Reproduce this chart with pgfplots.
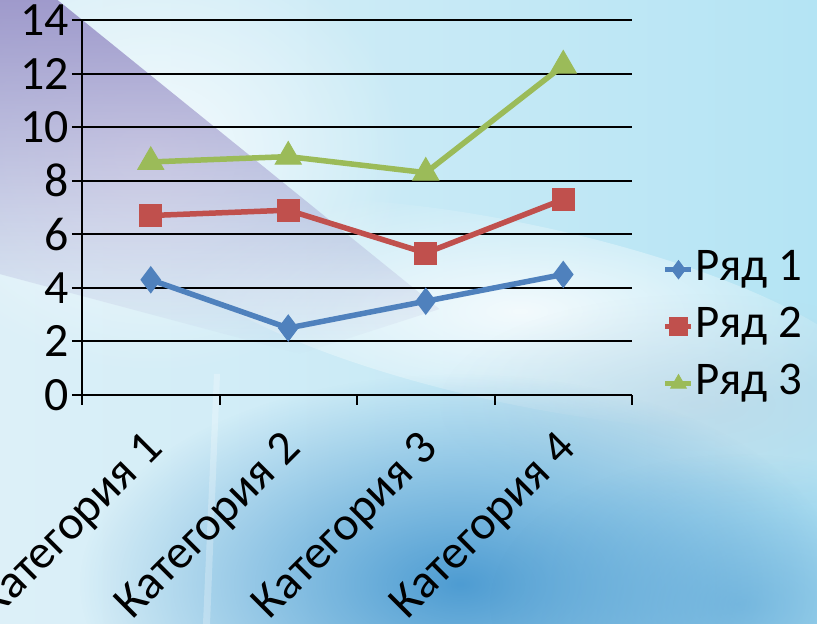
\documentclass[border=0pt]{standalone}
\usepackage{pgfplots}
\pgfplotsset{compat=1.18}
\usepackage{fontspec}
\setmainfont{Carlito}
\usetikzlibrary{fadings}
\definecolor{s1}{HTML}{4F81BD}
\definecolor{s2}{HTML}{C0504D}
\definecolor{s3}{HTML}{9BBB59}
\definecolor{bgL}{HTML}{DDF0F8}
\definecolor{bgR}{HTML}{B4E4F4}
\definecolor{lav}{HTML}{948BC4}
\definecolor{deepb}{HTML}{4E9CD2}
\definecolor{greyb}{HTML}{BFD3E2}
\tikzfading[name=fadeout, inner color=transparent!0, outer color=transparent!100]
\tikzfading[name=fadedown, top color=transparent!0, bottom color=transparent!100]
\begin{document}
\begin{tikzpicture}[x=1bp,y=1bp]
\clip (0,0) rectangle (817,624);
% background
\shade[left color=bgL, right color=bgR] (0,0) rectangle (817,624);
\fill[white, opacity=0.75, path fading=fadeout] (150,470) ellipse (260 and 220);
\fill[white, opacity=0.8, path fading=fadeout, rotate around={-12:(520,310)}] (520,310) ellipse (360 and 90);
\fill[lav, opacity=0.85, path fading=fadedown] (0,624) -- (58,624) -- (440,315) -- (300,270) -- (0,350) -- cycle;
\fill[greyb, opacity=0.55, path fading=fadeout] (700,220) ellipse (260 and 110);
\fill[deepb, path fading=fadeout] (460,40) ellipse (380 and 210);
\fill[deepb, opacity=0.5, path fading=fadeout] (740,20) ellipse (250 and 150);
\fill[white, opacity=0.25] (203,0) -- (210,0) -- (220,250) -- (214,250) -- cycle;
\begin{axis}[
  at={(82bp,229bp)}, anchor=south west,
  scale only axis, width=550bp, height=375bp,
  xmin=0.5, xmax=4.5, ymin=0, ymax=14,
  axis lines*=left,
  axis line style={line width=2bp, black},
  ytick={0,2,...,14},
  xtick={1,2,3,4},
  xticklabels={Категория 1,Категория 2,Категория 3,Категория 4},
  minor xtick={0.5,1.5,2.5,3.5,4.5},
  major x tick style={draw=none},
  minor x tick style={line width=2bp, black},
  y tick style={line width=2bp, black},
  tick align=outside,
  major tick length=10bp, minor tick length=10bp,
  ymajorgrids,
  grid style={line width=2bp, black},
  /pgf/number format/assume math mode=true,
  tick label style={font=\fontsize{48}{54}\selectfont},
  yticklabel style={inner sep=2bp, xshift=-1bp},
  xticklabel style={inner sep=0pt, xshift=6bp, yshift=-37bp, rotate=45, anchor=east},
  stack plots=y,
  every axis plot/.append style={line width=5.5bp},
  legend style={at={(1.051,0.182)}, anchor=west, draw=none, fill=none,
    font=\fontsize{47}{52}\selectfont, row sep=8bp,
    nodes={inner sep=2bp, text height=33bp, text depth=12bp}},
  legend cell align=left,
  legend image code/.code={\draw[#1, line width=4.5bp, mark repeat=2, mark phase=2, mark size=9bp] plot coordinates {(0bp,0bp) (13bp,0bp) (26bp,0bp)};},
]
\addplot[s1, mark=diamond*, mark size=13bp, mark options={fill=s1, line width=1bp}] coordinates {(1,4.3) (2,2.5) (3,3.5) (4,4.5)};
\addlegendentry{Ряд 1}
\addplot[s2, mark=square*, mark size=11bp, mark options={fill=s2, line width=1bp}] coordinates {(1,2.4) (2,4.4) (3,1.8) (4,2.8)};
\addlegendentry{Ряд 2}
\addplot[s3, mark=triangle*, mark size=15bp, mark options={fill=s3, line width=1bp}] coordinates {(1,2) (2,2) (3,3) (4,5)};
\addlegendentry{Ряд 3}
\end{axis}
\end{tikzpicture}
\end{document}
